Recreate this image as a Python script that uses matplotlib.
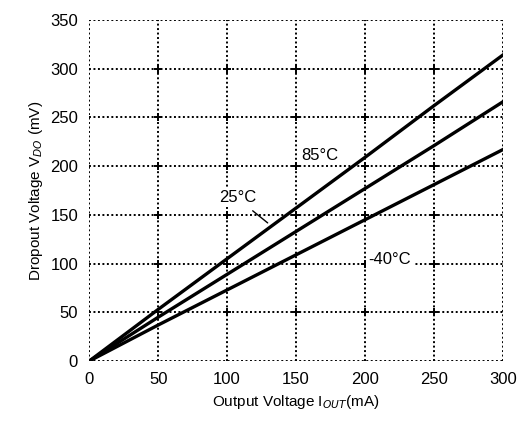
import numpy as np
from matplotlib import pyplot as plt

# load current (mA) and dropout voltage (mV) per temperature
current = [0, 50, 100, 150, 200, 250, 300]
vdo_85 = [0, 53, 105, 157, 209, 262, 314]
vdo_25 = [0, 45, 89, 133, 177, 221, 266]
vdo_m40 = [0, 37, 73, 109, 145, 181, 217]

x_ticks = [0, 50, 100, 150, 200, 250, 300]
y_ticks = [0, 50, 100, 150, 200, 250, 300, 350]

plt.rcParams['font.family'] = ['Liberation Sans', 'DejaVu Sans']

fig = plt.figure(figsize=(5.31, 4.34), dpi=100)
ax = fig.add_axes([0.168, 0.168, 0.779, 0.786])
ax.set_xlim(0, 300)
ax.set_ylim(0, 350)

# dotted grid with small crosses at the intersections
for xt in x_ticks:
    ax.axvline(xt, color='black', lw=1.4, ls=(0, (1, 1.3)), zorder=1)
for yt in y_ticks:
    ax.axhline(yt, color='black', lw=1.4, ls=(0, (1, 1.3)), zorder=1)
gx, gy = np.meshgrid(x_ticks[1:-1], y_ticks[1:-1])
ax.plot(gx.ravel(), gy.ravel(), '+', color='black', ms=6, mew=1.4, zorder=1)

for s in ax.spines.values():
    s.set_visible(False)

ax.plot(current, vdo_85, color='black', lw=2.4, zorder=3)
ax.plot(current, vdo_25, color='black', lw=2.4, zorder=3)
ax.plot(current, vdo_m40, color='black', lw=2.4, zorder=3)

ax.text(167, 211, '85°C', fontsize=12, ha='center', va='center',
        bbox=dict(facecolor='white', edgecolor='none', pad=1), zorder=4)
ax.text(108, 168, '25°C', fontsize=12, ha='center', va='center',
        bbox=dict(facecolor='white', edgecolor='none', pad=1), zorder=4)
ax.annotate('', xy=(131, 140), xytext=(117, 156),
            arrowprops=dict(arrowstyle='-', color='black', lw=1), zorder=4)
ax.text(218, 104, '-40°C', fontsize=12, ha='center', va='center',
        bbox=dict(facecolor='white', edgecolor='none', pad=2), zorder=4)

ax.set_xticks(x_ticks)
ax.set_yticks(y_ticks)
ax.tick_params(length=0, labelsize=12, pad=8)
ax.set_xlabel('Output Voltage I$_{OUT}$(mA)', fontsize=11, labelpad=4)
ax.set_ylabel('Dropout Voltage V$_{DO}$ (mV)', fontsize=11, labelpad=4)

fig.savefig('out.png', dpi=100)
